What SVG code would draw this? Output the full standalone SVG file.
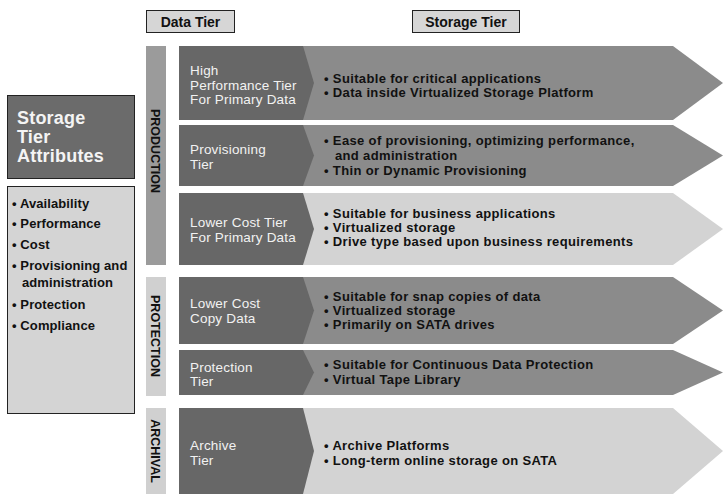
<svg xmlns="http://www.w3.org/2000/svg" width="723" height="495" viewBox="0 0 723 495">
  <style>
    .hdr { fill: #d6d6d6; stroke: #222; stroke-width: 1; }
    .hdrt { font-family: "Liberation Sans", Arial, sans-serif; font-weight: bold; font-size: 14px; fill: #111; text-anchor: middle; }
    .sec { font-family: "Liberation Sans", Arial, sans-serif; font-weight: bold; font-size: 12.5px; fill: #111; text-anchor: middle; }
    .data { fill: #676767; }
    .med { fill: #8b8b8b; }
    .lite { fill: #d3d3d3; }
    .dt { font-family: "Liberation Sans", Arial, sans-serif; font-size: 13.5px; letter-spacing: 0.2px; fill: #f2f2f2; }
    .st { font-family: "Liberation Sans", Arial, sans-serif; font-weight: bold; font-size: 13px; letter-spacing: 0.35px; fill: #111; }
    .attr { font-family: "Liberation Sans", Arial, sans-serif; font-weight: bold; font-size: 13px; letter-spacing: 0.1px; fill: #111; }
  </style>

  <!-- column headers -->
  <g id="hdr-data">
    <rect class="hdr" x="146.5" y="10.5" width="88" height="22"/>
    <text class="hdrt" x="190.5" y="26.5">Data Tier</text>
  </g>
  <g id="hdr-storage">
    <rect class="hdr" x="412.5" y="10.5" width="107" height="22"/>
    <text class="hdrt" x="466" y="26.5">Storage Tier</text>
  </g>

  <!-- attribute panel -->
  <g id="attr-title">
    <rect x="7.5" y="95.5" width="127" height="83" fill="#6b6b6b" stroke="#222"/>
    <text font-family="Liberation Sans, Arial, sans-serif" font-weight="bold" font-size="18px" letter-spacing="0.2" fill="#f4f4f4">
      <tspan x="17" y="124">Storage</tspan>
      <tspan x="17" y="143">Tier</tspan>
      <tspan x="17" y="162">Attributes</tspan>
    </text>
  </g>
  <g id="attr-list">
    <rect x="7.5" y="186.5" width="127" height="227" fill="#d4d4d4" stroke="#222"/>
    <text class="attr">
      <tspan x="12" y="207.5">• Availability</tspan>
      <tspan x="12" y="228">• Performance</tspan>
      <tspan x="12" y="249">• Cost</tspan>
      <tspan x="12" y="270">• Provisioning and</tspan>
      <tspan x="22" y="287">administration</tspan>
      <tspan x="12" y="309">• Protection</tspan>
      <tspan x="12" y="330">• Compliance</tspan>
    </text>
  </g>

  <!-- section bars -->
  <g id="sec-production">
    <rect x="146" y="46" width="20" height="219" fill="#9b9b9b"/>
    <text class="sec" transform="translate(150.5,151) rotate(90)">PRODUCTION</text>
  </g>
  <g id="sec-protection">
    <rect x="146" y="277" width="20" height="119" fill="#d0d0d0"/>
    <text class="sec" transform="translate(150.5,336) rotate(90)">PROTECTION</text>
  </g>
  <g id="sec-archival">
    <rect x="146" y="408" width="20" height="86" fill="#d0d0d0"/>
    <text class="sec" transform="translate(150.5,451) rotate(90)">ARCHIVAL</text>
  </g>

  <!-- tier rows -->
  <g id="row-high-perf">
    <polygon class="med" points="179,46 673,46 723,83 673,120 179,120"/>
    <polygon class="data" points="179,46 303,46 314,83 303,120 179,120"/>
    <text class="dt"><tspan x="190" y="75">High</tspan><tspan x="190" y="89.5">Performance Tier</tspan><tspan x="190" y="104">For Primary Data</tspan></text>
    <text class="st"><tspan x="324" y="82.5">• Suitable for critical applications</tspan><tspan x="324" y="97">• Data inside Virtualized Storage Platform</tspan></text>
  </g>
  <g id="row-provisioning">
    <polygon class="med" points="179,125 673,125 723,155.5 673,186 179,186"/>
    <polygon class="data" points="179,125 303,125 314,155.5 303,186 179,186"/>
    <text class="dt"><tspan x="190" y="154">Provisioning</tspan><tspan x="190" y="169">Tier</tspan></text>
    <text class="st"><tspan x="324" y="145">• Ease of provisioning, optimizing performance,</tspan><tspan x="335" y="160">and administration</tspan><tspan x="324" y="175">• Thin or Dynamic Provisioning</tspan></text>
  </g>
  <g id="row-lower-cost">
    <polygon class="lite" points="179,193 673,193 723,229 673,265 179,265"/>
    <polygon class="data" points="179,193 303,193 314,229 303,265 179,265"/>
    <text class="dt"><tspan x="190" y="227">Lower Cost Tier</tspan><tspan x="190" y="242">For Primary Data</tspan></text>
    <text class="st"><tspan x="324" y="218">• Suitable for business applications</tspan><tspan x="324" y="232">• Virtualized storage</tspan><tspan x="324" y="246">• Drive type based upon business requirements</tspan></text>
  </g>
  <g id="row-copy-data">
    <polygon class="med" points="179,277 673,277 723,310.5 673,344 179,344"/>
    <polygon class="data" points="179,277 303,277 314,310.5 303,344 179,344"/>
    <text class="dt"><tspan x="190" y="308">Lower Cost</tspan><tspan x="190" y="323">Copy Data</tspan></text>
    <text class="st"><tspan x="324" y="301">• Suitable for snap copies of data</tspan><tspan x="324" y="315">• Virtualized storage</tspan><tspan x="324" y="329">• Primarily on SATA drives</tspan></text>
  </g>
  <g id="row-protection">
    <polygon class="med" points="179,350 673,350 723,372.5 673,395 179,395"/>
    <polygon class="data" points="179,350 303,350 314,372.5 303,395 179,395"/>
    <text class="dt"><tspan x="190" y="372">Protection</tspan><tspan x="190" y="386">Tier</tspan></text>
    <text class="st"><tspan x="324" y="369">• Suitable for Continuous Data Protection</tspan><tspan x="324" y="384">• Virtual Tape Library</tspan></text>
  </g>
  <g id="row-archive">
    <polygon class="lite" points="179,408 673,408 723,451 673,494 179,494"/>
    <polygon class="data" points="179,408 303,408 314,451 303,494 179,494"/>
    <text class="dt"><tspan x="190" y="450">Archive</tspan><tspan x="190" y="465">Tier</tspan></text>
    <text class="st"><tspan x="324" y="450">• Archive Platforms</tspan><tspan x="324" y="465">• Long-term online storage on SATA</tspan></text>
  </g>

  <!-- no connectors in this chart -->
  <g id="connectors"/>
</svg>
